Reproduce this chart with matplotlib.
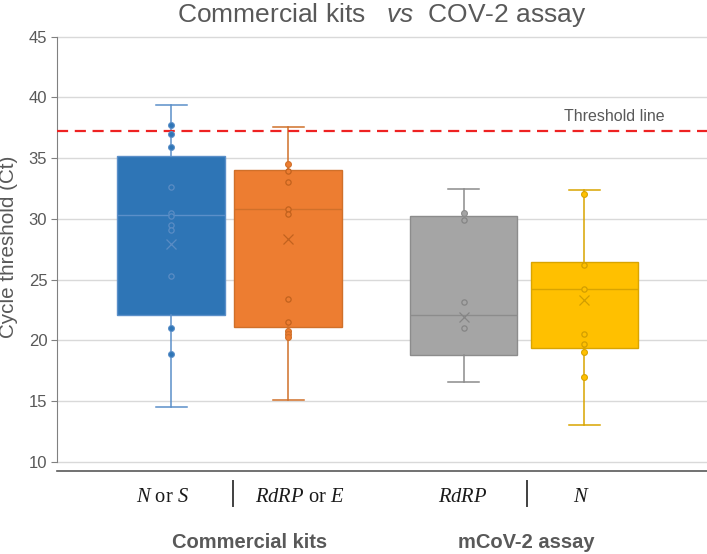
import matplotlib
matplotlib.use("Agg")
import matplotlib.pyplot as plt
import matplotlib.transforms as mtransforms
from matplotlib.lines import Line2D

plt.rcParams['font.family'] = ['Liberation Sans', 'DejaVu Sans']
plt.rcParams['mathtext.fontset'] = 'custom'
plt.rcParams['mathtext.rm'] = 'Liberation Serif'
plt.rcParams['mathtext.it'] = 'Liberation Serif:italic'
plt.rcParams['mathtext.sf'] = 'Liberation Sans:italic'

# --- datos ---
series = ["N or S", "RdRP or E", "RdRP", "N"]
q1 = [22.07, 21.09, 18.76, 19.34]
med = [30.30, 30.84, 22.05, 24.21]
q3 = [35.16, 33.99, 30.21, 26.49]
whis_lo = [14.51, 15.09, 16.54, 13.04]
whis_hi = [39.39, 37.52, 32.43, 32.35]
means = [27.96, 28.32, 21.94, 23.31]

# puntos fuera de la caja (rellenos) y dentro (huecos)
outer_pts = [
    [37.71, 37.00, 35.88, 21.04, 18.87],
    [34.51, 20.79, 20.51, 20.29],
    [30.51],
    [32.02, 19.03, 17.00],
]
inner_pts = [
    [32.59, 30.51, 30.21, 29.53, 29.11, 25.31],
    [33.91, 33.06, 30.84, 30.43, 23.42, 21.50],
    [29.91, 23.12, 21.04],
    [26.21, 24.21, 20.56, 19.69],
]
threshold = 37.2

cat_labels = [r"$N$ or $S$", r"$\mathit{RdRP}$ or $E$", r"$\mathit{RdRP}$", r"$N$"]
group_labels = ["Commercial kits", "mCoV-2 assay"]

# --- estilo ---
fill_colors = ["#2E75B6", "#ED7D31", "#A5A5A5", "#FFC000"]
edge_colors = ["#5B8FC9", "#D0702A", "#8C8C8C", "#D9A400"]
inner_edge = ["#5A8CC4", "#C2621E", "#858585", "#D29E00"]
positions = [1.0, 2.0, 3.5, 4.53]
label_pos = [0.93, 2.10, 3.49, 4.51]
sep_pos = [1.527, 4.043]
group_pos = [1.675, 4.034]

fig = plt.figure(figsize=(7.07, 5.54), dpi=100)
ax = fig.add_axes([57 / 707, 1 - 471 / 554, 650 / 707, 435 / 554])

stats = []
for i in range(len(series)):
    stats.append(dict(label=series[i], q1=q1[i], med=med[i], q3=q3[i],
                      whislo=whis_lo[i], whishi=whis_hi[i], mean=means[i]))

bp = ax.bxp(stats, positions=positions, widths=0.915, patch_artist=True,
            showmeans=True, showfliers=False, capwidths=0.265, zorder=3)

for i in range(len(series)):
    box = bp['boxes'][i]
    box.set_facecolor(fill_colors[i])
    box.set_edgecolor(edge_colors[i])
    box.set_linewidth(1.0)
    bp['medians'][i].set_color(edge_colors[i])
    bp['medians'][i].set_linewidth(1.0)
    for w in bp['whiskers'][2 * i:2 * i + 2]:
        w.set_color(edge_colors[i])
        w.set_linewidth(1.1)
    for c in bp['caps'][2 * i:2 * i + 2]:
        c.set_color(edge_colors[i])
        c.set_linewidth(1.1)
    m = bp['means'][i]
    m.set_marker('x')
    m.set_markersize(7)
    m.set_markeredgecolor(inner_edge[i])
    m.set_markeredgewidth(0.9)
    m.set_markerfacecolor('none')

    ax.plot([positions[i]] * len(outer_pts[i]), outer_pts[i], 'o', ms=4.2,
            color=fill_colors[i], mec=edge_colors[i], mew=0.8, zorder=5)
    ax.plot([positions[i]] * len(inner_pts[i]), inner_pts[i], 'o', ms=3.8,
            mfc=fill_colors[i], mec=inner_edge[i], mew=0.9, zorder=5)

# linea umbral
ax.axhline(threshold, color="#EE2222", lw=1.6, ls=(0, (5, 3)), zorder=4)
ax.text(4.79, threshold + 0.6, "Threshold line", ha='center', va='bottom',
        fontsize=11.5, color="#595959")

ax.set_xlim(0.0256, 5.581)
ax.set_ylim(9.25, 45.05)
ax.set_yticks(range(10, 50, 5))
ax.set_xticks([])
ax.yaxis.grid(True, color="#D9D9D9", lw=1.0, zorder=0)
ax.set_axisbelow(True)

for s in ['top', 'right']:
    ax.spines[s].set_visible(False)
ax.spines['left'].set_bounds(10, 45)
ax.spines['left'].set_color("#808080")
ax.spines['bottom'].set_color("#595959")
ax.spines['bottom'].set_linewidth(1.2)
ax.tick_params(axis='y', length=4, color="#808080", labelcolor="#595959",
               labelsize=12, pad=3)

fig.text(8.5 / 707, 1 - 246.5 / 554, "Cycle threshold (Ct)", rotation=90,
         ha='center', va='center', fontsize=14.9, color="#595959")

fig.text((57 + 707) / 2 / 707, 1 - 15 / 554,
         r"Commercial kits   $\mathsf{vs}$  COV-2 assay",
         ha='center', va='center', fontsize=19, color="#595959")

# etiquetas de categorias debajo del eje
trans = mtransforms.blended_transform_factory(ax.transData, fig.transFigure)
for x, lab in zip(label_pos, cat_labels):
    ax.text(x, 1 - 498 / 554, lab, transform=trans, ha='center', va='center',
            fontsize=14.8, family='Liberation Serif', color="#1A1A1A")
for x in sep_pos:
    ax.add_line(Line2D([x, x], [1 - 481 / 554, 1 - 506 / 554], transform=trans,
                       color="#404040", lw=1.4, clip_on=False))
for x, lab in zip(group_pos, group_labels):
    ax.text(x, 1 - 543 / 554, lab, transform=trans, ha='center', va='center',
            fontsize=14.5, fontweight='bold', color="#595959")

fig.savefig("out.png", dpi=100)
